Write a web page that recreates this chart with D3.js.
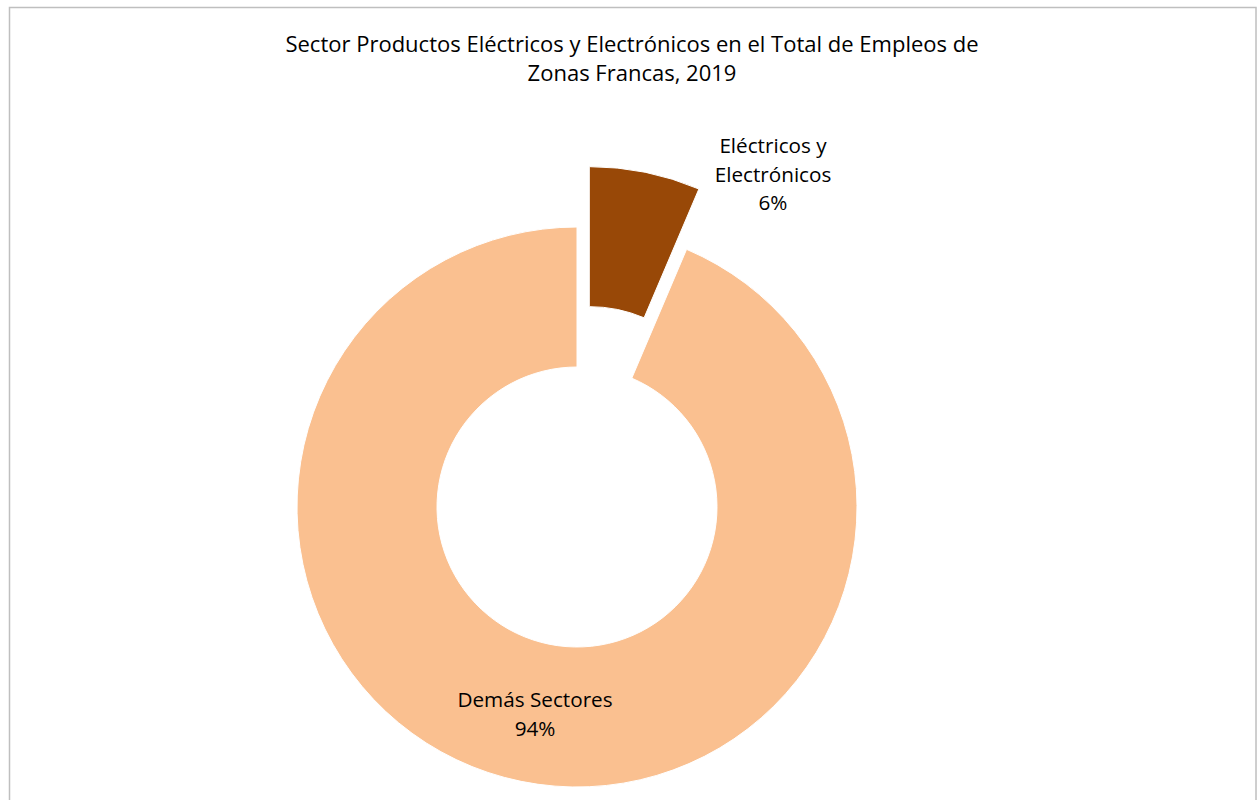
<!DOCTYPE html>
<html>
<head>
<meta charset="utf-8">
<script src="https://cdn.jsdelivr.net/npm/d3@7"></script>
<style>
  html, body { margin: 0; padding: 0; background: #fff; }
  svg text { font-family: "Open Sans", Lato, sans-serif; fill: #000; }
</style>
</head>
<body>
<svg id="chart" width="1257" height="800"></svg>
<script>
const categories = ["Eléctricos y Electrónicos", "Demás Sectores"];
const labelLines = [["Eléctricos y", "Electrónicos"], ["Demás Sectores"]];
const values = [6.4, 93.6];
const percentLabels = ["6%", "94%"];
const titleLines = ["Sector Productos Eléctricos y Electrónicos en el Total de Empleos de", "Zonas Francas, 2019"];
const colors = ["#984807", "#FAC090"];
const explode = [0.22, 0];

const svg = d3.select("#chart");
svg.append("rect").attr("x", 9.5).attr("y", 7.5).attr("width", 1246.5).attr("height", 810)
  .attr("fill", "#fff").attr("stroke", "#bfbfbf").attr("stroke-width", 1.5);

svg.append("text").attr("x", 632).attr("text-anchor", "middle").attr("font-size", 22)
  .selectAll("tspan").data(titleLines).join("tspan")
  .attr("x", 632).attr("y", (d, i) => 52 + i * 28.5).text(d => d);

const cx = 577, cy = 507, R = 280, r = 140;
const pie = d3.pie().sort(null).value(d => d)(values);
const arc = d3.arc().innerRadius(r).outerRadius(R);
const g = svg.append("g").attr("transform", `translate(${cx},${cy})`);

g.selectAll("path").data(pie).join("path")
  .attr("d", arc)
  .attr("fill", (d, i) => colors[i])
  .attr("stroke", "#fff").attr("stroke-width", 1)
  .attr("transform", (d, i) => {
    const a = (d.startAngle + d.endAngle) / 2;
    const off = explode[i] * R;
    return `translate(${off * Math.sin(a)},${-off * Math.cos(a)})`;
  });

const labelPos = [[773 - cx, 153 - cy], [535 - cx, 707 - cy]];
pie.forEach((d, i) => {
  const lines = labelLines[i].concat([percentLabels[i]]);
  const t = g.append("text").attr("text-anchor", "middle").attr("font-size", 20.7);
  t.selectAll("tspan").data(lines).join("tspan")
    .attr("x", labelPos[i][0]).attr("y", (l, j) => labelPos[i][1] + j * 28.5).text(l => l);
});
</script>
</body>
</html>
